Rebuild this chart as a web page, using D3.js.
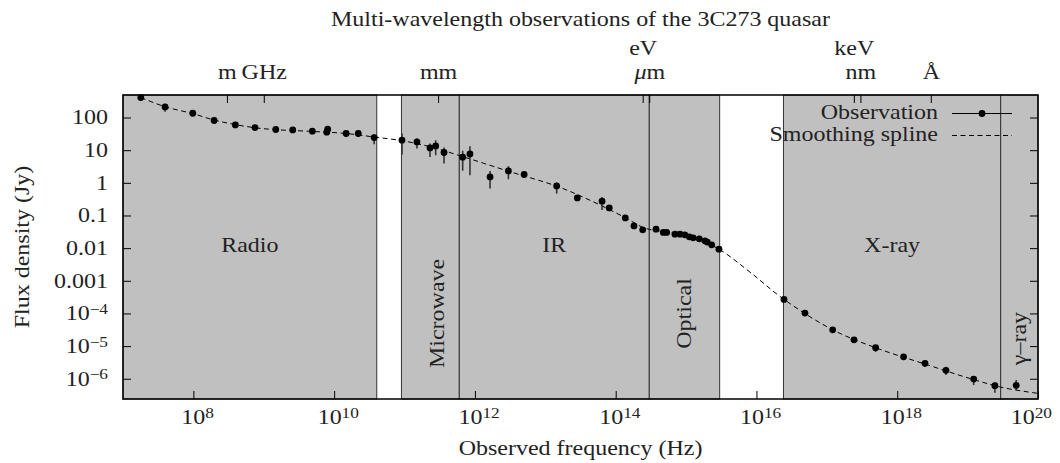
<!DOCTYPE html>
<html>
<head>
<meta charset="utf-8">
<script src="https://cdn.jsdelivr.net/npm/d3@7"></script>
<style>
  body { margin: 0; background: #fff; }
  text { font-family: 'Liberation Serif', serif; fill: #222; }
</style>
</head>
<body>
<div id="chart"></div>
<script>
// observations of 3C273 (frequency in Hz, flux density in Jy)
const obsFreq = [1.79e7, 3.96e7, 9.8e7, 1.97e8, 3.95e8, 7.5e8, 1.48e9, 2.58e9, 4.9e9, 8.1e9,
  7.85e9, 1.48e10, 2.2e10, 3.7e10, 9.2e10, 1.5e11, 2.3e11, 2.77e11, 3.64e11, 6.7e11,
  8.5e11, 1.64e12, 2.99e12, 5.0e12, 1.45e13, 2.85e13, 6.4e13, 8.1e13, 1.37e14, 1.82e14,
  2.42e14, 3.74e14, 4.75e14, 5.3e14, 6.95e14, 8.2e14, 9.6e14, 1.11e15, 1.26e15, 1.54e15,
  1.85e15, 2.0e15, 2.31e15, 2.93e15, 2.46e16, 4.89e16, 1.21e17, 2.43e17, 4.93e17, 1.23e18,
  2.48e18, 4.92e18, 1.22e19, 2.44e19, 4.9e19];
const obsFlux = [409, 211, 135, 81, 59.4, 49.4, 43, 41.7, 38.1, 43.9,
  35.5, 32.4, 32.4, 24.4, 20.2, 17.9, 11.7, 13.5, 8.5, 6.1,
  7.7, 1.52, 2.32, 1.80, 0.807, 0.346, 0.274, 0.171, 0.0845, 0.048,
  0.0363, 0.0382, 0.0302, 0.0302, 0.0268, 0.0268, 0.0255, 0.0222, 0.0207, 0.0193,
  0.0167, 0.0153, 0.0126, 0.0093, 2.69e-4, 1.03e-4, 3.16e-5, 1.56e-5, 8.9e-6, 4.7e-6,
  2.96e-6, 1.81e-6, 9.8e-7, 6.1e-7, 6.3e-7];
const obsLo = [null, 150, null, null, null, null, null, null, 34, null,
  30, 26.5, 27, 15.2, 7.4, 11.2, 6.2, 7.0, 3.9, 2.36,
  1.71, 0.67, 1.29, null, 0.47, null, 0.146, null, null, null,
  null, null, null, null, null, null, null, null, null, null,
  null, null, null, null, null, null, null, 1.3e-5, 6.7e-6, 3.73e-6,
  2.33e-6, 1.30e-6, 6.4e-7, 3.73e-7, 4.5e-7];
const obsHi = [null, 265, null, null, null, null, null, null, 41, null,
  38, 34, 34, 30.8, 32.4, 22.8, 16, 20.2, 12.1, 9.6,
  13.2, 2.32, 3.24, null, 1.0, null, 0.37, null, null, null,
  null, null, null, null, null, null, null, null, null, null,
  null, null, null, null, null, null, null, 1.8e-5, 1.07e-5, 5.7e-6,
  3.3e-6, 2.33e-6, 1.21e-6, 7.55e-7, 9.1e-7];

// smoothing spline
const splineFreq = [1.79e7, 3.96e7, 9.9e7, 1.97e8, 3.9e8, 7.5e8, 1.5e9, 4.8e9, 1.48e10, 3.7e10,
  9.2e10, 2.3e11, 6.8e11, 3.16e12, 1.45e13, 4.3e13, 1.37e14, 2.6e14, 4.85e14, 1.12e15,
  2.93e15, 8.1e15, 2.46e16, 1.21e17, 4.93e17, 2.48e18, 1.22e19, 3.39e19, 1e20];
const splineFlux = [409, 214, 131, 83.8, 61, 48.7, 42.4, 37.6, 32.4, 25.3,
  19.5, 12.8, 6.3, 2.19, 0.79, 0.294, 0.0857, 0.0409, 0.032, 0.0233,
  0.0093, 1.84e-3, 2.69e-4, 3.16e-5, 8.9e-6, 2.82e-6, 9.4e-7, 5.2e-7, 3.57e-7];

// spectral regions
const regionNames = ['Radio', 'Microwave', 'IR', 'Optical', 'X-ray', '\u03b3\u2013ray'];
const regionStart = [1e7, 9.04e10, 6.0e11, 3.0e14, 2.42e16, 2.95e19];
const regionEnd = [4.03e10, 6.0e11, 3.0e14, 3.0e15, 2.95e19, 1e20];
const regionVertical = [false, true, false, true, false, true];

const xTicks = [1e8, 1e10, 1e12, 1e14, 1e16, 1e18, 1e20];
const xTickLabels = ['10^8', '10^10', '10^12', '10^14', '10^16', '10^18', '10^20'];
const yTicks = [100, 10, 1, 0.1, 0.01, 0.001, 1e-4, 1e-5, 1e-6];
const yTickLabels = ['100', '10', '1', '0.1', '0.01', '0.001', '10^\u22124', '10^\u22125', '10^\u22126'];
const topTicks = [2.998e8, 1e9, 2.998e11, 2.418e14, 2.998e14, 2.418e17, 2.998e17, 2.998e18];
const topTickLabels = ['m', 'GHz', 'mm', 'eV', '\u03bcm', 'keV', 'nm', '\u00c5'];
const topUpper = ['eV', 'keV'];

const width = 1060, height = 463;
const plot = { left: 123, right: 1038, top: 95, bottom: 399 };
const SX = 1.2; // reference font is wider than Liberation Serif
const fs = 20;

let x = d3.scaleLog().domain([1e7, 1e20]).range([plot.left, plot.right]);
let y = d3.scaleLog().domain([Math.pow(10, -6.62), Math.pow(10, 2.69)]).range([plot.bottom, plot.top]);

let svg = d3.select('#chart').append('svg')
  .attr('width', width)
  .attr('height', height);

function supText(sel, s) {
  sel.text(null);
  let parts = s.split('^');
  sel.append('tspan').text(parts[0]);
  if (parts.length > 1) {
    sel.append('tspan').attr('dy', '-0.45em').attr('font-size', '72%').text(parts[1]);
  }
}

function label(px, py, s, rot, anchor) {
  let t = svg.append('text')
    .attr('font-size', fs)
    .attr('text-anchor', anchor || 'middle')
    .text(s);
  t.attr('transform', 'translate(' + px + ',' + py + ')' + (rot ? ' rotate(-90)' : '') + ' scale(' + SX + ',1)');
  return t;
}

// regions
svg.append('g').selectAll('rect')
  .data(regionNames)
  .join('rect')
  .attr('x', (d, i) => x(regionStart[i]))
  .attr('width', (d, i) => x(regionEnd[i]) - x(regionStart[i]))
  .attr('y', plot.top)
  .attr('height', plot.bottom - plot.top)
  .attr('fill', '#c0c0c0')
  .attr('stroke', '#333')
  .attr('stroke-width', 1);

// region labels
regionNames.forEach((name, i) => {
  let cx = (x(regionStart[i]) + x(regionEnd[i])) / 2;
  if (regionVertical[i]) {
    let cy = name === 'Microwave' || name === 'Optical' ? y(1e-4) : y(1.7e-5);
    let off = name === 'Microwave' ? 14 : 7;
    label(cx + off, cy, name, true).attr('fill', '#333');
  } else {
    label(cx, y(0.01) + 4, name, false).attr('fill', '#333');
  }
});

// smoothing spline
let splineLine = d3.line()
  .x((d, i) => x(splineFreq[i]))
  .y((d, i) => y(splineFlux[i]))
  .curve(d3.curveCatmullRom);

svg.append('path')
  .datum(splineFreq)
  .attr('fill', 'none')
  .attr('stroke', '#000')
  .attr('stroke-width', 1)
  .attr('stroke-dasharray', '5,3.5')
  .attr('d', splineLine);

// error bars
svg.append('g').selectAll('line')
  .data(obsFreq.map((f, i) => i).filter(i => obsLo[i] !== null))
  .join('line')
  .attr('x1', i => x(obsFreq[i]))
  .attr('x2', i => x(obsFreq[i]))
  .attr('y1', i => y(obsLo[i]))
  .attr('y2', i => y(obsHi[i]))
  .attr('stroke', '#333')
  .attr('stroke-width', 1.6);

// observations
svg.append('g').selectAll('circle')
  .data(obsFreq)
  .join('circle')
  .attr('cx', d => x(d))
  .attr('cy', (d, i) => y(obsFlux[i]))
  .attr('r', 3.4)
  .attr('fill', '#000');

// axes
let xAxis = d3.axisBottom(x).tickValues(xTicks).tickSizeInner(-8).tickSizeOuter(0).tickPadding(11);
let gx = svg.append('g')
  .attr('transform', 'translate(0,' + plot.bottom + ')')
  .call(xAxis);
gx.selectAll('text').each(function (d, i) {
  let t = d3.select(this);
  supText(t, xTickLabels[i]);
  // last label is pulled in so it stays on the page
  t.attr('transform', 'scale(' + SX + ',1)').attr('dx', i === xTicks.length - 1 ? -6 : 3);
});

let yAxis = d3.axisLeft(y).tickValues(yTicks).tickSizeInner(-8).tickSizeOuter(0).tickPadding(12.5);
let gy = svg.append('g')
  .attr('transform', 'translate(' + plot.left + ',0)')
  .call(yAxis);
gy.selectAll('text').each(function (d, i) {
  let t = d3.select(this);
  supText(t, yTickLabels[i]);
  t.attr('transform', 'scale(' + SX + ',1)');
});

let yAxisR = d3.axisRight(y).tickValues(yTicks).tickSizeInner(-8).tickSizeOuter(0).tickFormat('');
svg.append('g')
  .attr('transform', 'translate(' + plot.right + ',0)')
  .call(yAxisR);

let topAxis = d3.axisTop(x).tickValues(topTicks).tickSizeInner(-8).tickSizeOuter(0).tickPadding(16)
  .tickFormat((d, i) => topTickLabels[i]);
let gt = svg.append('g')
  .attr('transform', 'translate(0,' + plot.top + ')')
  .call(topAxis);
gt.selectAll('text').each(function (d, i) {
  let t = d3.select(this);
  t.attr('transform', 'scale(' + SX + ',1)');
  if (topUpper.includes(topTickLabels[i])) t.attr('dy', '-1.2em');
  if (topTickLabels[i] === '\u03bcm') {
    t.text(null);
    t.append('tspan').attr('font-style', 'italic').text('\u03bc');
    t.append('tspan').text('m');
  }
});

svg.selectAll('.domain').remove();
svg.selectAll('.tick line').attr('stroke', '#000').attr('stroke-width', 1);
svg.selectAll('.tick text').attr('font-size', fs).attr('font-family', "'Liberation Serif', serif").attr('fill', '#222');

// frame
svg.append('rect')
  .attr('x', plot.left)
  .attr('y', plot.top)
  .attr('width', plot.right - plot.left)
  .attr('height', plot.bottom - plot.top)
  .attr('fill', 'none')
  .attr('stroke', '#000')
  .attr('stroke-width', 1.5);

// titles
label((plot.left + plot.right) / 2, 26, 'Multi-wavelength observations of the 3C273 quasar', false);
label((plot.left + plot.right) / 2, 455, 'Observed frequency (Hz)', false);
label(29, (plot.top + plot.bottom) / 2, 'Flux density (Jy)', true);

// legend
let leg = svg.append('g');
label(938, 119, 'Observation', false, 'end');
label(938, 140.5, 'Smoothing spline', false, 'end');
leg.append('line')
  .attr('x1', 952).attr('x2', 1012).attr('y1', 113.5).attr('y2', 113.5)
  .attr('stroke', '#000').attr('stroke-width', 1);
leg.append('circle').attr('cx', 982).attr('cy', 113.5).attr('r', 3.4).attr('fill', '#000');
leg.append('line')
  .attr('x1', 952).attr('x2', 1012).attr('y1', 135.5).attr('y2', 135.5)
  .attr('stroke', '#000').attr('stroke-width', 1).attr('stroke-dasharray', '5,3.5');
</script>
</body>
</html>
